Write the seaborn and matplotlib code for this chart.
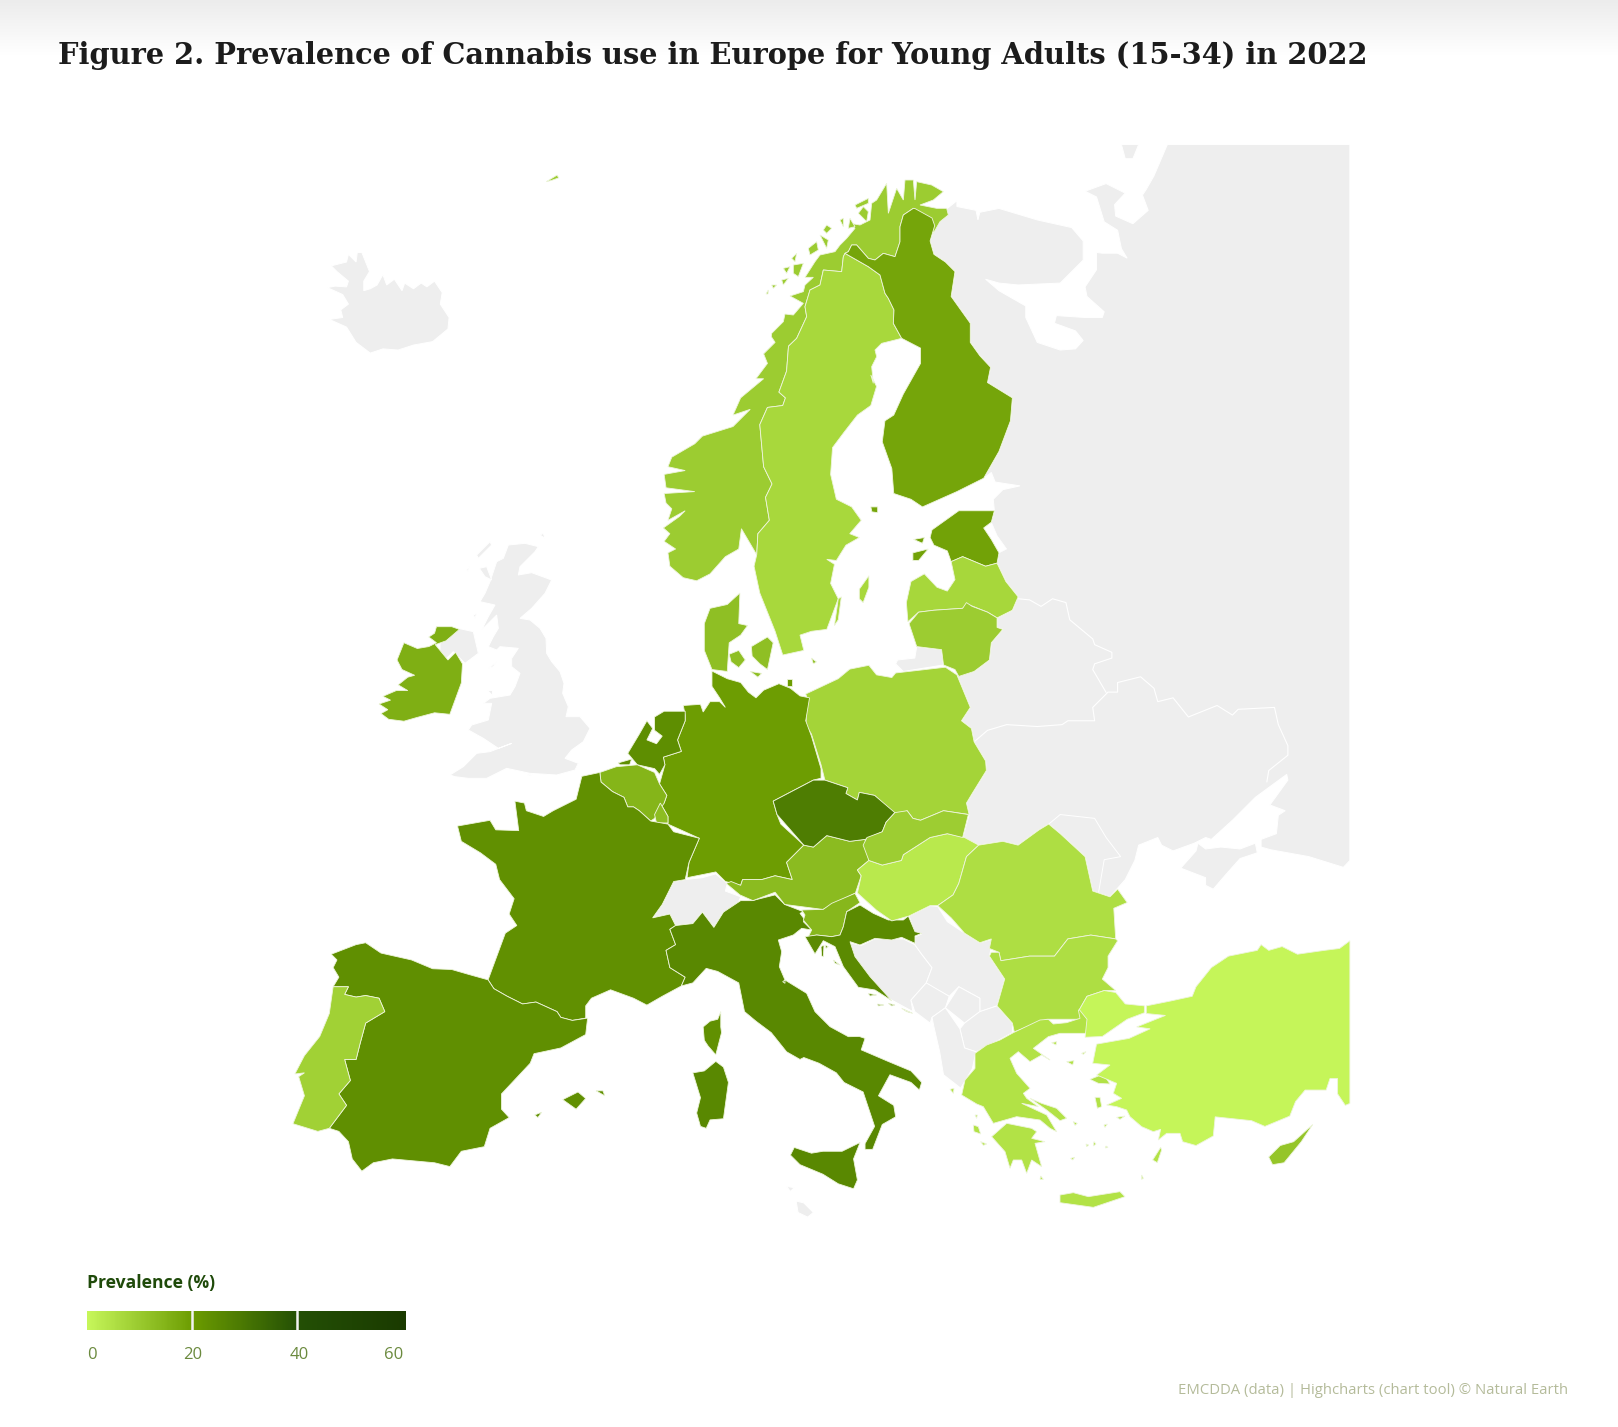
import numpy as np
import pandas as pd
import seaborn as sns
import matplotlib.pyplot as plt

# Prevalence of cannabis use, young adults - map redrawn from hand traced outlines
sns.set_theme(style="white")

S = 1568 / 600


def nw(p):
    return [(270 + x / S, 130 + y / S) for x, y in p]


def ne(p):
    return [(800 + x / S, 130 + y / S) for x, y in p]


def sw(p):
    return [(270 + x / S, 650 + y / S) for x, y in p]


def se(p):
    return [(800 + x / S, 650 + y / S) for x, y in p]


# closer 3x crops for the fiddly coasts
def north(p):
    return [(740 + x / 3, 170 + y / 3) for x, y in p]


def aegean(p):
    return [(950 + x / 3, 1000 + y / 3) for x, y in p]


def adria(p):
    return [(760 + x / 3, 880 + y / 3) for x, y in p]


def uk(p):
    return [(440 + x / 3, 530 + y / 3) for x, y in p]


# --- shared borders ---
NO_SE = nw([(1272, 1110), (1275, 1055), (1305, 1020), (1295, 960), (1312, 925), (1290, 880), (1280, 770), (1300, 725),
            (1340, 720), (1347, 700), (1330, 685), (1350, 630), (1355, 565)]) + north([(170, 505), (200, 440), (195, 410),
            (210, 360), (240, 345), (250, 300), (305, 305), (310, 260), (315, 250)])
SE_FI = north([(315, 250), (350, 270), (385, 290), (420, 315), (435, 370), (445, 385), (462, 420), (460, 460), (485, 505)])

# --- outlines of the countries with data ---
NORWAY = [nw([(1232, 1042), (1225, 1095), (1190, 1115), (1150, 1160), (1115, 1178), (1080, 1170), (1045, 1140), (1040, 1105),
              (1060, 1095), (1030, 1075), (1045, 1055), (1028, 1040), (1070, 1010), (1085, 995), (1040, 1020), (1050, 990),
              (1035, 975), (1030, 950), (1110, 945), (1035, 935), (1030, 900), (1085, 890), (1040, 880), (1050, 855),
              (1110, 820), (1130, 800), (1210, 775), (1255, 730), (1210, 745), (1230, 700), (1290, 650), (1270, 650),
              (1300, 610), (1290, 585), (1320, 555), (1310, 540)])
          + north([(95, 490), (130, 455), (135, 432), (160, 435), (190, 400), (150, 378), (190, 365), (195, 345), (220, 322),
                   (195, 322), (225, 275), (240, 255), (285, 245), (300, 225), (320, 205), (345, 175), (330, 160), (360, 165),
                   (390, 150), (395, 100), (410, 90), (440, 40), (445, 130), (470, 55), (490, 90), (495, 30), (520, 30),
                   (525, 90), (530, 35), (575, 45), (610, 65), (580, 90), (540, 105), (590, 115), (620, 115), (625, 135),
                   (600, 155), (580, 190), (575, 150), (520, 115), (490, 135), (480, 170), (480, 215), (465, 260), (430, 250),
                   (405, 270), (385, 265), (350, 225), (335, 225), (325, 245)])
          + NO_SE[::-1],
          north([(205, 235), (230, 215), (235, 240), (210, 255)]), north([(260, 165), (275, 175), (260, 190), (250, 180)]),
          north([(240, 195), (265, 210), (260, 235)]), north([(345, 105), (385, 85), (385, 100), (350, 115)]),
          north([(370, 110), (385, 125), (380, 155), (355, 130)]), north([(330, 145), (345, 170), (325, 175)]),
          north([(155, 265), (170, 250), (165, 275)]), north([(130, 295), (150, 290), (140, 310)]),
          north([(160, 285), (190, 280), (175, 320), (160, 310)]), north([(125, 330), (145, 325), (130, 345)]),
          north([(95, 345), (110, 345), (100, 355)]), north([(78, 372), (85, 360), (84, 372)]),
          north([(300, 150), (310, 145), (310, 170)]),
          nw([(722, 135), (750, 118), (755, 125), (735, 132)])]
SWEDEN = [SE_FI + north([(425, 520), (405, 540), (410, 560), (395, 590), (400, 640)])
          + ne([(185, 640), (200, 670), (185, 720), (150, 745), (115, 790), (85, 830), (80, 900),
                (95, 965), (135, 985), (160, 1020), (130, 1055), (155, 1065), (120, 1085), (95, 1125), (70, 1122),
                (90, 1135), (80, 1185), (100, 1225), (70, 1305), (30, 1310), (0, 1320)])
          + nw([(1395, 1360), (1340, 1372), (1320, 1310), (1280, 1210), (1265, 1140)]) + NO_SE,
          ne([(155, 1200), (180, 1165), (180, 1195), (165, 1235), (155, 1225)]),
          ne([(100, 1225), (108, 1220), (100, 1280), (90, 1295)])]
FINLAND = [ne([(300, 205), (345, 230), (352, 250), (340, 290), (350, 325), (380, 345), (405, 370), (395, 435), (445, 505),
               (445, 555), (470, 590), (498, 620), (490, 660), (555, 700), (550, 760), (520, 840), (480, 910), (410, 945),
               (320, 985), (290, 965), (245, 950), (240, 885), (215, 815), (222, 760), (245, 745), (270, 690), (315, 610),
               (315, 570)]) + SE_FI[::-1]
           + north([(325, 245), (335, 225), (350, 225), (385, 265), (405, 270), (430, 250), (465, 260), (480, 215), (480, 170),
                    (490, 135), (520, 115)]),
           ne([(185, 985), (203, 985), (203, 1000), (188, 998)])]
ESTONIA = [ne([(345, 1045), (415, 995), (508, 995), (500, 1025), (480, 1040), (500, 1070), (520, 1105), (515, 1132), (485, 1140),
               (425, 1115), (395, 1128), (385, 1100), (350, 1085), (340, 1065)]),
           ne([(295, 1105), (335, 1095), (310, 1125), (295, 1125)]), ne([(297, 1070), (325, 1065), (320, 1080)])]
LATVIA = [ne([(282, 1285), (278, 1235), (290, 1180), (325, 1160), (358, 1195), (385, 1205), (405, 1175), (395, 1128), (425, 1115),
              (485, 1140), (515, 1132), (538, 1180), (570, 1220), (555, 1255), (515, 1275), (490, 1260), (440, 1240),
              (425, 1250), (350, 1255), (310, 1260)])]
LITHUANIA = [ne([(285, 1290), (310, 1260), (350, 1255), (425, 1250), (435, 1235), (450, 1245), (490, 1260), (515, 1275), (515, 1300),
                 (530, 1305), (500, 1340), (495, 1385), (455, 1415), (415, 1428), (405, 1410), (375, 1398), (370, 1358),
                 (305, 1350), (295, 1320)])]
DENMARK = [nw([(1228, 1210), (1225, 1290), (1248, 1295), (1230, 1320), (1200, 1340), (1195, 1415), (1155, 1410), (1135, 1360),
               (1135, 1290), (1150, 1250), (1195, 1240)]),
           nw([(1258, 1350), (1300, 1325), (1315, 1340), (1300, 1410), (1280, 1395), (1260, 1375)]),
           nw([(1200, 1370), (1225, 1360), (1242, 1385), (1225, 1405), (1205, 1390)]),
           nw([(1255, 1415), (1285, 1420), (1275, 1430)]), nw([(1415, 1380), (1428, 1390), (1420, 1395)])]
IRELAND = [nw([(435, 1298), (475, 1298), (495, 1305), (460, 1335), (432, 1345), (465, 1385), (485, 1365), (503, 1395), (500, 1445),
               (470, 1527), (430, 1523), (385, 1535), (350, 1545), (310, 1540), (290, 1525), (308, 1515), (285, 1500),
               (315, 1490), (295, 1480), (330, 1465), (360, 1465), (335, 1450), (360, 1430), (378, 1425), (345, 1410),
               (332, 1385), (350, 1340), (385, 1355), (415, 1350), (435, 1340), (415, 1325), (430, 1315)])]
POLAND = [se([(180, 40), (200, 65), (240, 72), (250, 60), (380, 45), (410, 65), (445, 150), (422, 185), (448, 205), (455, 240),
              (485, 290), (487, 315), (450, 375), (435, 400), (442, 430), (375, 420), (315, 445), (295, 440), (280, 420),
              (250, 432), (195, 380), (155, 372), (150, 392), (120, 375), (125, 360), (65, 340), (55, 300), (30, 220),
              (15, 195), (20, 130), (15, 115), (100, 75), (130, 50)])]
GERMANY = [sw([(1155, 55), (1195, 75), (1230, 85), (1250, 110), (1270, 125), (1290, 105), (1330, 88), (1360, 100), (1385, 120),
               (1410, 125), (1400, 185), (1415, 225), (1440, 310), (1440, 335), (1420, 340), (1315, 395), (1325, 430),
               (1335, 455), (1395, 510), (1350, 555), (1365, 600), (1320, 590), (1285, 600), (1235, 600), (1230, 615),
               (1190, 605), (1165, 580), (1090, 595), (1095, 555), (1122, 492), (1040, 455), (1040, 435), (1020, 400),
               (1030, 400), (1037, 380), (1018, 350), (1032, 300), (1028, 280), (1075, 265), (1065, 235), (1085, 185),
               (1085, 170), (1080, 145), (1125, 142), (1132, 162), (1150, 135), (1175, 135), (1190, 150), (1175, 125),
               (1155, 95)]),
           sw([(1350, 75), (1365, 75), (1365, 95), (1350, 95)])]
NETHERLANDS = [sw([(1005, 175), (1030, 160), (1085, 160), (1085, 185), (1065, 235), (1075, 265), (1028, 280), (1032, 300), (1018, 325),
                   (1005, 310), (960, 300), (935, 270), (965, 220), (985, 185), (1000, 205), (985, 235), (1010, 245), (1025, 225),
                   (1005, 210)]),
               sw([(910, 295), (945, 285), (940, 300), (915, 300)])]
BELGIUM = [sw([(862, 320), (905, 305), (960, 300), (1005, 320), (1018, 350), (1037, 380), (1030, 400), (1005, 440), (995, 447),
               (965, 420), (950, 410), (935, 410), (925, 385), (895, 370), (865, 345)])]
LUXEMBOURG = [sw([(1020, 400), (1040, 435), (1040, 452), (1010, 452), (1005, 430)])]
FRANCE = [sw([(862, 320), (865, 345), (895, 370), (925, 385), (935, 410), (950, 410), (965, 420), (995, 447), (1040, 455), (1055, 475),
              (1122, 492), (1095, 555), (1085, 600), (1055, 605), (1025, 665), (1000, 700), (1045, 690), (1060, 720),
              (1045, 730), (1060, 770), (1035, 785), (1045, 830), (1085, 855), (1075, 878), (1025, 905), (985, 928),
              (950, 910), (890, 888), (840, 910), (825, 930), (825, 962), (790, 968), (760, 960), (750, 945), (695, 920),
              (660, 925), (620, 905), (585, 885), (570, 862), (615, 740), (645, 720), (625, 690), (638, 650), (600, 600),
              (590, 560), (550, 530), (500, 500), (490, 460), (575, 445), (590, 470), (650, 472), (640, 395), (665, 400),
              (670, 420), (715, 435), (740, 420), (800, 390), (815, 330)]),
          sw([(1178, 945), (1178, 985), (1180, 1000), (1165, 1058), (1145, 1035), (1135, 1020), (1132, 985), (1150, 970),
              (1170, 965)])]
SPAIN = [sw([(160, 795), (225, 770), (250, 765), (290, 792), (370, 810), (425, 833), (475, 835), (520, 848), (570, 862), (585, 885),
             (620, 905), (660, 925), (695, 920), (750, 945), (760, 960), (790, 968), (830, 962), (825, 1005), (760, 1040),
             (690, 1055), (680, 1080), (605, 1160), (605, 1200), (625, 1222), (575, 1250), (560, 1298), (500, 1310),
             (470, 1350), (430, 1340), (320, 1330), (270, 1340), (240, 1362), (215, 1330), (205, 1285), (180, 1258),
             (155, 1250), (200, 1190), (180, 1160), (210, 1125), (195, 1070), (225, 1070), (235, 1030), (250, 975),
             (300, 945), (285, 910), (250, 903), (225, 907), (195, 900), (205, 880), (165, 880), (180, 855), (165, 830),
             (175, 810)]),
         sw([(765, 1175), (805, 1155), (825, 1172), (800, 1200)]), sw([(852, 1152), (870, 1152), (875, 1165)]),
         sw([(692, 1215), (710, 1208), (700, 1222)])]
PORTUGAL = [sw([(165, 880), (205, 880), (195, 900), (225, 907), (250, 903), (285, 910), (300, 945), (250, 975), (235, 1030), (225, 1070),
                (195, 1070), (210, 1125), (180, 1160), (200, 1190), (155, 1250), (125, 1258), (60, 1238), (90, 1165),
                (75, 1115), (90, 1105), (65, 1108), (90, 1060), (130, 1010), (155, 950)])]
ITALY = [sw([(1060, 720), (1105, 715), (1130, 685), (1160, 725), (1185, 685), (1230, 655), (1260, 655), (1320, 640), (1345, 665)])
         + adria([(130, 95), (120, 100), (135, 120), (130, 125), (155, 150), (125, 145), (100, 165), (55, 180), (65, 215), (58, 260),
                  (75, 300), (140, 340), (165, 395), (210, 440), (265, 470)])
         + se([(155, 1010), (170, 1015), (160, 1045), (230, 1075), (290, 1100), (318, 1130), (312, 1150), (290, 1130), (235, 1110),
               (205, 1165), (245, 1190), (250, 1220), (215, 1240), (190, 1305), (170, 1305), (170, 1290), (195, 1245),
               (165, 1155), (115, 1130), (95, 1105), (50, 1080), (10, 1065), (0, 1070)])
         + sw([(1350, 1050), (1310, 1000), (1270, 970), (1240, 945), (1225, 870), (1170, 840), (1140, 832), (1105, 870),
               (1075, 878), (1085, 855), (1045, 830), (1035, 785), (1060, 770), (1045, 730)]),
         se([(157, 1287), (140, 1330), (150, 1385), (140, 1408), (100, 1395), (60, 1370), (0, 1345), (-25, 1320), (-15, 1300),
             (30, 1315), (60, 1310), (110, 1310)]),
         sw([(1165, 1075), (1185, 1090), (1198, 1130), (1185, 1225), (1150, 1228), (1140, 1250), (1125, 1245), (1115, 1210),
             (1125, 1170), (1105, 1105), (1135, 1100)]),
         adria([(68, 305), (75, 300), (75, 310)])]
AUSTRIA = [sw([(1192, 610), (1228, 640), (1262, 655), (1320, 633), (1345, 665), (1445, 678), (1500, 650), (1530, 635), (1545, 590),
               (1535, 575), (1565, 550), (1555, 495), (1515, 500), (1455, 485), (1420, 515), (1395, 510), (1350, 555),
               (1365, 600), (1320, 590), (1285, 600), (1235, 600), (1230, 615), (1205, 605)])]
CZECHIA = [se([(-70, 395), (35, 340), (65, 340), (125, 360), (120, 375), (150, 392), (155, 372), (195, 380), (248, 425), (225, 450),
               (215, 475), (170, 495), (130, 500), (70, 485), (35, 515), (10, 510), (-60, 430)])]
SLOVENIA = [adria([(125, 90), (190, 88), (215, 70), (285, 40), (300, 68), (260, 95), (250, 140), (240, 165), (215, 170), (170, 165),
                   (145, 170), (155, 150), (130, 120), (135, 105)])]
CROATIA = [adria([(300, 75), (340, 100), (385, 120), (430, 120), (445, 108), (465, 155), (485, 160), (465, 168), (465, 190), (425, 172),
                  (395, 180), (345, 175), (300, 195), (270, 185), (285, 230), (330, 290), (395, 362), (345, 330), (295, 322),
                  (250, 260), (225, 200), (190, 182), (165, 222), (135, 170), (170, 165), (215, 170), (240, 165), (250, 140),
                  (260, 95)]),
           adria([(183, 200), (192, 195), (190, 230), (185, 228)]), adria([(195, 195), (205, 200), (198, 205)]),
           adria([(220, 240), (240, 255), (225, 250)]), adria([(325, 340), (350, 345), (330, 348)]),
           adria([(352, 372), (372, 375), (355, 378)]), adria([(385, 370), (405, 375), (395, 378)]),
           adria([(425, 385), (458, 400), (440, 395)])]
HUNGARY = [se([(180, 550), (215, 562), (265, 550), (270, 535), (340, 490), (385, 480), (430, 490), (467, 510), (435, 540), (415, 610),
               (400, 640), (360, 668), (340, 668), (285, 695), (240, 708), (200, 680), (150, 635), (160, 590), (150, 575)])]
SLOVAKIA = [se([(248, 425), (280, 420), (295, 440), (315, 445), (375, 420), (440, 430), (425, 490), (385, 480), (340, 490), (270, 535),
                (265, 550), (215, 562), (180, 550), (165, 510), (175, 490), (215, 475), (225, 450)])]
ROMANIA = [se([(467, 510), (530, 500), (570, 510), (625, 470), (650, 455), (680, 480), (745, 540), (765, 630), (810, 645), (830, 625),
               (855, 660), (820, 675), (825, 755), (760, 745), (700, 755), (665, 800), (600, 800), (525, 812), (520, 790),
               (495, 780), (500, 755), (470, 765), (430, 740), (395, 700), (360, 668), (400, 640), (415, 610), (435, 540)])]
BULGARIA = [se([(525, 812), (600, 800), (665, 800), (700, 755), (760, 745), (825, 755), (830, 760), (805, 800), (805, 830), (790, 860),
                (825, 890), (795, 890), (750, 905), (730, 940), (735, 965), (645, 965), (560, 998), (555, 975), (515, 930),
                (535, 860), (495, 800), (500, 790), (520, 790)])]
GREECE = [aegean([(190, 98), (270, 60), (295, 58), (310, 72), (350, 68), (390, 55), (385, 30), (420, 25), (425, 45), (410, 100),
                  (330, 100), (295, 110), (250, 145), (300, 180), (275, 165), (240, 185), (205, 155), (180, 175), (200, 220),
                  (240, 265), (220, 280), (230, 295), (265, 320), (215, 310), (290, 345), (320, 395), (300, 385), (270, 360),
                  (200, 350), (130, 370), (100, 320), (80, 312), (35, 285), (45, 240), (75, 205), (75, 160), (110, 135),
                  (150, 120)]),
          aegean([(125, 410), (170, 370), (245, 385), (260, 395), (245, 415), (285, 425), (255, 430), (275, 500), (245, 480),
                  (230, 520), (215, 480), (190, 480), (180, 505), (165, 455)]),
          aegean([(330, 585), (370, 578), (415, 590), (510, 575), (525, 590), (430, 622), (330, 608)]),
          aegean([(240, 295), (275, 310), (320, 325), (350, 355), (330, 362), (290, 330)]),
          aegean([(420, 238), (460, 222), (480, 252), (445, 250)]), aegean([(435, 292), (450, 292), (455, 320), (442, 325)]),
          aegean([(500, 352), (525, 348), (510, 358)]), aegean([(608, 480), (632, 442), (635, 450), (622, 488)]),
          aegean([(575, 525), (580, 535), (575, 538)]), aegean([(350, 185), (372, 182), (368, 195)]),
          aegean([(305, 128), (320, 125), (318, 135)]), aegean([(395, 160), (408, 155), (400, 163)]),
          aegean([(70, 375), (85, 380), (92, 402), (72, 395)]), aegean([(92, 425), (110, 432), (100, 436)]),
          aegean([(0, 268), (12, 265), (10, 280)]), aegean([(75, 345), (82, 345), (80, 355)]),
          aegean([(432, 425), (438, 432), (430, 438)]), aegean([(408, 432), (416, 435), (410, 440)]),
          aegean([(362, 475), (374, 472), (368, 480)]), aegean([(468, 438), (474, 442), (466, 444)]),
          aegean([(462, 375), (472, 372), (465, 382)]), aegean([(370, 365), (382, 370), (375, 376)]),
          aegean([(272, 528), (280, 538), (270, 538)])]
TURKEY = [se([(750, 905), (795, 890), (825, 895), (850, 925), (900, 930), (900, 948), (855, 965), (790, 1010), (745, 1012), (750, 965),
              (730, 940)]),
          se([(905, 950), (905, 930), (965, 918), (1025, 905), (1035, 880), (1075, 830), (1120, 800), (1195, 785), (1205, 770),
              (1225, 785), (1260, 775), (1300, 795), (1370, 785), (1410, 780), (1437, 760), (1437, 1185), (1425, 1190),
              (1405, 1160), (1405, 1120), (1385, 1120), (1375, 1150), (1320, 1150), (1295, 1180), (1280, 1218), (1215, 1245),
              (1180, 1230), (1085, 1220), (1080, 1270), (1035, 1295), (1000, 1285)])
          + aegean([(690, 400), (650, 400), (625, 420), (632, 388), (610, 395), (575, 380), (540, 350), (530, 330), (500, 320),
                    (470, 315), (515, 295), (490, 280), (500, 250), (440, 225), (480, 195)])
          + se([(765, 1080), (775, 1030), (860, 1015), (915, 990), (880, 985), (955, 955)])]
CYPRUS = [se([(1225, 1325), (1255, 1295), (1290, 1285), (1340, 1240), (1310, 1285), (1265, 1340), (1235, 1345)])]

# --- countries without data, all light grey ---
ICELAND = nw([(150, 412), (190, 430), (205, 455), (185, 470), (190, 490), (155, 495), (200, 515), (225, 555), (262, 583), (295, 572),
              (335, 575), (375, 562), (425, 553), (465, 520), (468, 490), (445, 455), (450, 425), (430, 395), (410, 410),
              (395, 400), (375, 415), (352, 400), (345, 420), (325, 390), (305, 405), (295, 378), (280, 405), (262, 415),
              (245, 420), (245, 395), (260, 370), (240, 320), (228, 320), (225, 345), (205, 325), (200, 345), (160, 355),
              (175, 370), (205, 395), (200, 410), (170, 408)])
BRITAIN = uk([(205, 45), (255, 40), (295, 50), (285, 65), (240, 110), (235, 135), (275, 128), (335, 150), (315, 190), (275, 235),
              (240, 265), (270, 270), (300, 295), (318, 325), (320, 370), (335, 395), (360, 425), (372, 460), (368, 490), (385, 530),
              (378, 560), (420, 560), (450, 595), (430, 635), (395, 660), (375, 685), (415, 700), (405, 720), (350, 735),
              (270, 730), (200, 715), (140, 745), (85, 745), (45, 740), (30, 735), (70, 710), (110, 670), (150, 665), (215, 640),
              (175, 655), (130, 625), (85, 600), (95, 585), (145, 570), (155, 520), (130, 520), (150, 505), (210, 495), (225, 470),
              (240, 430), (215, 410), (215, 385), (235, 355), (180, 350), (170, 360), (145, 350), (160, 320), (175, 295),
              (170, 255), (125, 300), (145, 260), (165, 225), (120, 215), (135, 190), (150, 155), (170, 95), (190, 85)])
N_IRELAND = uk([(55, 295), (100, 305), (115, 370), (75, 400), (40, 365), (20, 385), (0, 370), (0, 340), (20, 320), (40, 310)])
UK_ISLES = [uk([(110, 75), (150, 35), (155, 45), (130, 70), (115, 85)]), uk([(118, 115), (140, 110), (155, 150), (135, 140)]),
            uk([(100, 255), (110, 250), (105, 265)]), uk([(300, 15), (310, 10), (315, 25)]), uk([(145, 415), (170, 395), (160, 410)]),
            uk([(140, 480), (155, 480), (155, 495)]), uk([(80, 120), (88, 108), (85, 125)]), uk([(262, 735), (278, 732), (270, 738)])]
KALININGRAD = ne([(255, 1385), (300, 1380), (305, 1350), (370, 1358), (375, 1398), (270, 1415), (250, 1395)])
SWITZERLAND = sw([(1055, 605), (1085, 600), (1130, 595), (1165, 585), (1195, 610), (1190, 630), (1230, 645), (1220, 670), (1215, 695),
                  (1185, 685), (1160, 725), (1130, 685), (1105, 715), (1060, 720), (1045, 690), (1000, 700), (1025, 665)])
BOSNIA = se([(130, 765), (160, 772), (195, 755), (270, 755), (300, 770), (318, 795), (345, 830), (330, 870), (290, 915), (295, 945),
             (240, 915), (180, 880), (150, 830)])
SERBIA = se([(285, 695), (340, 668), (360, 670), (385, 710), (430, 740), (470, 765), (505, 755), (495, 800), (535, 860), (515, 930),
             (470, 945), (470, 910), (415, 880), (390, 905), (345, 880), (330, 870), (345, 830), (318, 795), (300, 770),
             (300, 750), (318, 742), (300, 740)])
MONTENEGRO = se([(290, 915), (330, 870), (390, 905), (380, 935), (345, 960), (340, 975), (300, 945)])
KOSOVO = se([(380, 935), (415, 880), (470, 910), (470, 945), (430, 975)])
MACEDONIA = se([(430, 975), (470, 945), (515, 930), (555, 975), (555, 1000), (500, 1030), (460, 1050), (430, 1040), (418, 990)])
ALBANIA = se([(345, 960), (380, 935), (418, 990), (430, 1040), (460, 1050), (450, 1095), (420, 1145), (375, 1110), (365, 1050),
              (350, 985)])
MOLDOVA = se([(650, 455), (680, 430), (770, 440), (800, 490), (838, 540), (795, 548), (780, 635), (765, 630), (745, 540), (680, 480)])
CRIMEA = se([(1040, 505), (1060, 520), (1100, 515), (1150, 520), (1190, 505), (1195, 530), (1150, 545), (1110, 590), (1080, 625),
             (1060, 615), (1060, 595), (995, 570), (1035, 525)])
MALTA = sw([(1375, 1440), (1395, 1445), (1420, 1470), (1405, 1482), (1380, 1470)])
LAMPEDUSA = sw([(1350, 1402), (1370, 1405), (1360, 1415)])
NOVAYA = ne([(840, 38), (885, 38), (870, 75), (850, 75)])
EAST = (ne([(345, 265), (375, 225), (385, 205), (410, 185), (410, 200), (460, 210), (465, 235), (470, 215), (520, 205), (620, 235),
            (710, 255), (740, 290), (740, 340), (680, 400), (570, 405), (520, 400), (485, 390), (520, 420), (590, 460),
            (590, 490), (620, 555), (680, 575), (720, 572), (740, 550), (720, 525), (665, 505), (670, 485), (745, 490),
            (790, 490), (795, 475), (750, 435), (745, 410), (775, 365), (775, 320), (790, 322), (830, 322), (855, 335),
            (840, 310), (830, 262), (795, 240), (775, 175), (745, 160), (800, 140), (850, 165), (822, 195), (825, 225),
            (870, 245), (910, 210), (895, 170), (905, 155), (925, 120), (960, 38), (1437, 38)])
        + se([(1437, 550), (1420, 568), (1330, 540), (1230, 522), (1205, 515), (1205, 495), (1245, 480), (1250, 432), (1268, 420),
              (1228, 405), (1275, 340), (1272, 325), (1190, 385), (1130, 445), (1075, 495), (1060, 490), (1030, 505),
              (975, 525), (945, 510), (935, 490), (885, 510), (875, 550), (850, 600), (810, 645), (765, 630), (745, 540),
              (680, 480), (650, 455), (625, 470), (570, 510), (530, 500), (467, 510), (425, 490), (442, 430), (435, 400),
              (450, 375), (487, 315), (485, 290), (455, 240), (448, 205), (422, 185), (445, 150), (410, 65)])
        + ne([(455, 1415), (495, 1385), (500, 1340), (530, 1305), (515, 1300), (515, 1275), (555, 1255), (570, 1220), (538, 1180),
              (515, 1132), (520, 1105), (500, 1070), (480, 1040), (500, 1025), (508, 995), (505, 965), (530, 940), (575, 930),
              (510, 920), (500, 895), (480, 910), (520, 840), (550, 760), (555, 700), (490, 660), (498, 620), (470, 590),
              (445, 555), (445, 505), (395, 435), (405, 370), (380, 345), (350, 325), (340, 290), (352, 250)]))
PEIPUS = ne([(478, 1040), (500, 1025), (515, 1060), (540, 1095), (520, 1105), (500, 1070)])

# white lines inside the grey area
BELARUS_LINE = ne([(570, 1225), (600, 1228), (630, 1245), (660, 1225), (695, 1235), (705, 1280), (765, 1330), (770, 1345), (815, 1365),
                   (815, 1380), (770, 1395), (765, 1410), (800, 1470)])
UKRAINE_N_LINE = se([(455, 240), (490, 210), (540, 195), (620, 200), (685, 195), (700, 185), (770, 185), (765, 150), (805, 110), (830, 110),
                     (830, 85), (890, 70), (925, 100), (935, 135), (975, 125), (1015, 175), (1090, 145), (1130, 170), (1145, 155),
                     (1240, 150), (1250, 195), (1275, 250), (1275, 275), (1225, 315), (1220, 345)])

# --- data: prevalence ---
countries = ["Norway", "Sweden", "Finland", "Estonia", "Latvia", "Lithuania", "Denmark", "Ireland", "Poland", "Germany",
             "Netherlands", "Belgium", "Luxembourg", "France", "Spain", "Portugal", "Italy", "Austria", "Czechia",
             "Slovenia", "Croatia", "Hungary", "Slovakia", "Romania", "Bulgaria", "Greece", "Turkey", "Cyprus"]
prevalence = [9.2, 6.6, 18.0, 18.5, 6.8, 9.2, 12.0, 15.5, 7.7, 19.5,
              23.5, 14.5, 12.5, 22.8, 23.0, 8.4, 25.0, 13.0, 28.0,
              14.0, 24.5, 3.0, 9.0, 5.3, 5.3, 4.5, 0.4, 11.0]
shapes = [NORWAY, SWEDEN, FINLAND, ESTONIA, LATVIA, LITHUANIA, DENMARK, IRELAND, POLAND, GERMANY,
          NETHERLANDS, BELGIUM, LUXEMBOURG, FRANCE, SPAIN, PORTUGAL, ITALY, AUSTRIA, CZECHIA,
          SLOVENIA, CROATIA, HUNGARY, SLOVAKIA, ROMANIA, BULGARIA, GREECE, TURKEY, CYPRUS]
no_data = [ICELAND, BRITAIN, N_IRELAND, KALININGRAD, SWITZERLAND, BOSNIA, SERBIA, MONTENEGRO, KOSOVO, MACEDONIA,
           ALBANIA, EAST, MOLDOVA, CRIMEA, MALTA, LAMPEDUSA, NOVAYA] + UK_ISLES
legend_ticks = [0, 20, 40, 60]

cmap = sns.blend_palette(["#c6f65a", "#6b9b00", "#234f05", "#1a3a00"], as_cmap=True)

fig = plt.figure(figsize=(16.18, 14.27), dpi=100)
ax = fig.add_axes([0, 0, 1, 1])

# grey fade at the very top of the page
ax.imshow(np.linspace(0, 1, 60)[:, None], extent=[0, 1618, 55, 0], cmap=sns.blend_palette(["#ececec", "#ffffff"], as_cmap=True),
          aspect="auto", zorder=0)

for shape in no_data:
    xy = np.array(shape)
    ax.fill(xy[:, 0], xy[:, 1], facecolor="#eeeeee", edgecolor="white", linewidth=0.7, zorder=1)

for line in [BELARUS_LINE, UKRAINE_N_LINE]:
    line_df = pd.DataFrame(line, columns=["x", "y"])
    sns.lineplot(data=line_df, x="x", y="y", sort=False, estimator=None, color="white", linewidth=0.8, ax=ax, zorder=2)

xy = np.array(PEIPUS)
ax.fill(xy[:, 0], xy[:, 1], facecolor="white", edgecolor="white", linewidth=0.5, zorder=2)

for name, value, parts in zip(countries, prevalence, shapes):
    for part in parts:
        xy = np.array(part)
        ax.fill(xy[:, 0], xy[:, 1], facecolor=cmap(value / 60), edgecolor="#eef5dc", linewidth=0.6, zorder=3)

ax.set_xlim(0, 1618)
ax.set_ylim(1427, 0)
ax.set_xlabel("")
ax.set_ylabel("")
ax.axis("off")

ax.text(58, 55, "Figure 2. Prevalence of Cannabis use in Europe for Young Adults (15-34) in 2022", family="DejaVu Serif",
        weight="bold", fontsize=20.8, color="#1c1c1c", va="center", ha="left")
ax.text(87, 1283, "Prevalence (%)", family="Open Sans", weight="bold", fontsize=12.6, color="#1f4a0a", va="center")
ax.text(1568, 1390, "EMCDDA (data) | Highcharts (chart tool) © Natural Earth", family="Open Sans", fontsize=10.7,
        color="#b4bb9a", va="center", ha="right")

# legend bar
cax = fig.add_axes([87 / 1618, 1 - 1330 / 1427, 319 / 1618, 19 / 1427])
sns.heatmap(np.linspace(0, 60, 320)[None, :], vmin=0, vmax=60, cmap=cmap, cbar=False, xticklabels=False, yticklabels=False, ax=cax)
cax.axvline(105, color="#f2f2f2", linewidth=1.8)
cax.axvline(211, color="#f2f2f2", linewidth=1.8)
for tick, tick_x in zip(legend_ticks, [92, 193, 299, 394]):
    ax.text(tick_x, 1355, str(tick), family="Open Sans", fontsize=12, color="#6b8a3e", va="center", ha="center")

fig.savefig("out.png", dpi=100)
